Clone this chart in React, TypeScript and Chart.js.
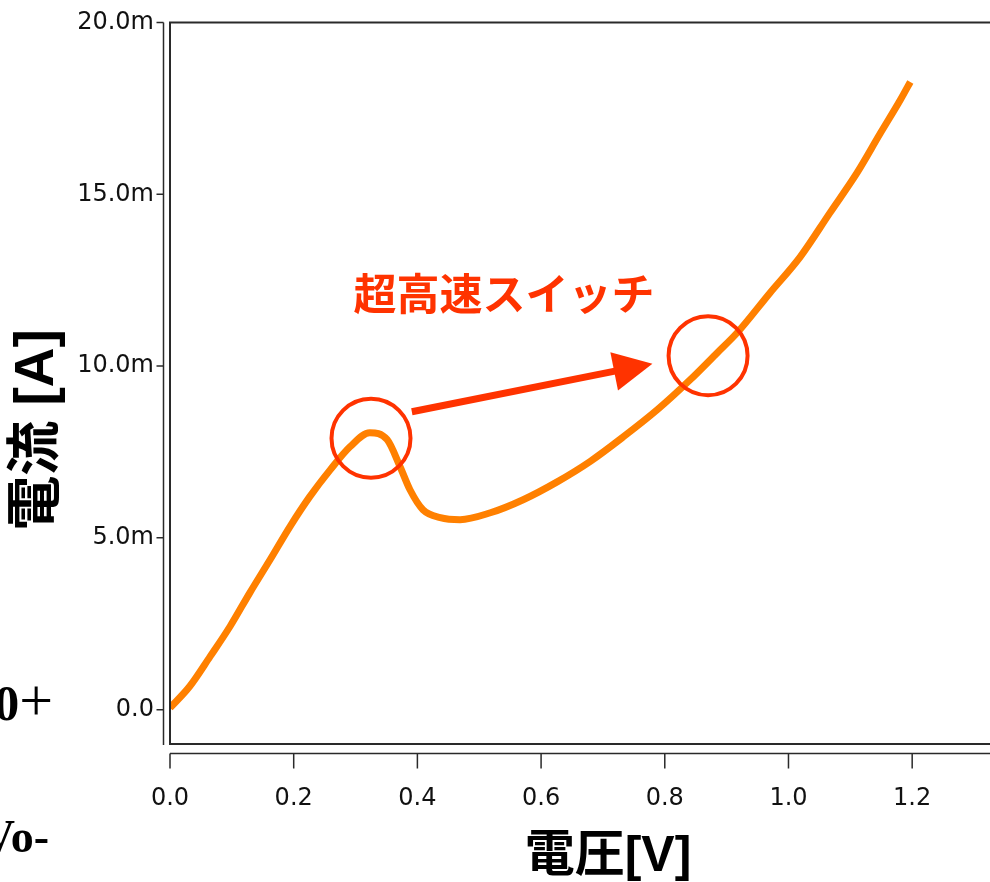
import React, { useEffect, useRef } from "react";
import { Chart, registerables } from "chart.js";

Chart.register(...registerables);

// Voltage [V] and current [mA]
const voltage = [0.0, 0.032, 0.065, 0.097, 0.129, 0.162, 0.194, 0.226, 0.259, 0.291, 0.323, 0.351, 0.372, 0.388, 0.409, 0.437, 0.469, 0.518, 0.571, 0.626, 0.679, 0.733, 0.788, 0.841, 0.885, 0.917, 0.970, 1.019, 1.067, 1.111, 1.148, 1.181, 1.197];
const current = [0.05, 0.68, 1.55, 2.42, 3.40, 4.37, 5.33, 6.20, 6.98, 7.65, 8.06, 7.86, 7.07, 6.40, 5.82, 5.59, 5.53, 5.73, 6.11, 6.63, 7.22, 7.94, 8.73, 9.60, 10.39, 10.97, 12.13, 13.18, 14.46, 15.63, 16.76, 17.75, 18.27];

const xTickValues = [0, 0.2, 0.4, 0.6, 0.8, 1.0, 1.2];
const yTickValues = [0, 5, 10, 15, 20];

const xTitle = "電圧[V]";
const yTitle = "電流 [A]";
const annotationText = "超高速スイッチ";

// annotation anchors in data units (V, mA)
const circleCenters = [
  { v: 0.325, i: 7.9 },
  { v: 0.870, i: 10.3 },
];
const arrowFrom = { v: 0.391, i: 8.67 };
const arrowTo = { v: 0.780, i: 10.07 };
const labelAt = { v: 0.540, i: 12.1 };

const RED = "#ff3300";
const ORANGE = "#ff8000";
const AXIS = "#2a2a2a";

const overlay = {
  id: "overlay",
  afterDraw(chart: any) {
    const ctx = chart.ctx;
    const a = chart.chartArea;
    const xs = chart.scales.x;
    const ys = chart.scales.y;
    ctx.save();

    // plot frame
    ctx.strokeStyle = AXIS;
    ctx.lineWidth = 2;
    ctx.strokeRect(a.left, a.top, a.right - a.left + 20, a.bottom - a.top);

    // outer y axis
    ctx.lineWidth = 1.5;
    const yAxisX = a.left - 6.5;
    ctx.beginPath();
    ctx.moveTo(yAxisX, a.top);
    ctx.lineTo(yAxisX, a.bottom + 1);
    for (const t of ys.ticks) {
      const py = ys.getPixelForValue(t.value);
      ctx.moveTo(yAxisX - 7, py);
      ctx.lineTo(yAxisX, py);
    }
    ctx.stroke();

    // outer x axis
    const xAxisY = a.bottom + 9.5;
    ctx.beginPath();
    ctx.moveTo(a.left, xAxisY);
    ctx.lineTo(chart.width, xAxisY);
    for (const t of xs.ticks) {
      const px = xs.getPixelForValue(t.value);
      ctx.moveTo(px, xAxisY);
      ctx.lineTo(px, xAxisY + 15);
    }
    ctx.stroke();

    // axis titles
    ctx.fillStyle = "#000";
    ctx.textAlign = "center";
    ctx.textBaseline = "middle";
    ctx.font = "bold 50px 'Liberation Sans', 'Noto Sans CJK JP', sans-serif";
    ctx.fillText(xTitle, 608, 857);
    ctx.save();
    ctx.translate(38, 430);
    ctx.rotate(-Math.PI / 2);
    ctx.font = "bold 55px 'Liberation Sans', 'Noto Sans CJK JP', sans-serif";
    ctx.fillText(yTitle, 0, 0);
    ctx.restore();

    // residual left-edge labels
    ctx.textAlign = "right";
    ctx.textBaseline = "alphabetic";
    ctx.font = "normal 60px 'Liberation Serif', serif";
    ctx.fillText("+", 53, 720);
    const plusW = ctx.measureText("+").width;
    ctx.font = "bold 50px 'Liberation Serif', serif";
    ctx.fillText("0", 53 - plusW, 720);
    ctx.font = "bold 46px 'Liberation Serif', serif";
    ctx.fillText("Vo-", 49, 852);

    // annotation circles
    ctx.strokeStyle = RED;
    ctx.lineWidth = 4;
    for (const c of circleCenters) {
      ctx.beginPath();
      ctx.arc(xs.getPixelForValue(c.v), ys.getPixelForValue(c.i), 39.5, 0, Math.PI * 2);
      ctx.stroke();
    }

    // arrow
    const x1 = xs.getPixelForValue(arrowFrom.v);
    const y1 = ys.getPixelForValue(arrowFrom.i);
    const x2 = xs.getPixelForValue(arrowTo.v);
    const y2 = ys.getPixelForValue(arrowTo.i);
    const ang = Math.atan2(y2 - y1, x2 - x1);
    const headLen = 39;
    const headHalf = 19.5;
    const bx = x2 - headLen * Math.cos(ang);
    const by = y2 - headLen * Math.sin(ang);
    ctx.lineWidth = 7;
    ctx.lineCap = "butt";
    ctx.beginPath();
    ctx.moveTo(x1, y1);
    ctx.lineTo(bx + 2 * Math.cos(ang), by + 2 * Math.sin(ang));
    ctx.stroke();
    ctx.fillStyle = RED;
    ctx.beginPath();
    ctx.moveTo(x2, y2);
    ctx.lineTo(bx - headHalf * Math.sin(ang), by + headHalf * Math.cos(ang));
    ctx.lineTo(bx + headHalf * Math.sin(ang), by - headHalf * Math.cos(ang));
    ctx.closePath();
    ctx.fill();

    // annotation text
    ctx.textAlign = "center";
    ctx.textBaseline = "middle";
    ctx.font = "bold 43px 'Noto Sans CJK JP', sans-serif";
    ctx.fillText(annotationText, xs.getPixelForValue(labelAt.v), ys.getPixelForValue(labelAt.i));

    ctx.restore();
  },
};

export default function App() {
  const ref = useRef<HTMLCanvasElement | null>(null);

  useEffect(() => {
    if (!ref.current) return;
    const points = voltage.map((v, k) => ({ x: v, y: current[k] }));
    const xTickFont = { family: "'DejaVu Sans', sans-serif", size: 24 };
    const yTickFont = { family: "'DejaVu Sans', sans-serif", size: 24, lineHeight: 0.6 };
    const chart = new Chart(ref.current, {
      type: "line",
      data: {
        datasets: [
          {
            data: points,
            borderColor: ORANGE,
            borderWidth: 7,
            pointRadius: 0,
            fill: false,
            cubicInterpolationMode: "monotone",
          },
        ],
      },
      options: {
        responsive: false,
        animation: false,
        events: [],
        layout: { padding: { left: 0, top: 22.5, right: 10, bottom: 0 } },
        plugins: { legend: { display: false }, tooltip: { enabled: false } },
        scales: {
          x: {
            type: "linear",
            min: 0,
            max: 1.342,
            afterFit: (s: any) => {
              s.height = 138;
            },
            afterBuildTicks: (s: any) => {
              s.ticks = xTickValues.map((v) => ({ value: v }));
            },
            grid: { display: false, drawTicks: false, tickLength: 0 },
            border: { display: false },
            ticks: {
              padding: 40,
              color: "#111",
              font: xTickFont,
              maxRotation: 0,
              autoSkip: false,
              callback: (v: any) => Number(v).toFixed(1),
            },
          },
          y: {
            type: "linear",
            min: -1,
            max: 20,
            afterFit: (s: any) => {
              s.width = 170;
              s.paddingTop = 0;
            },
            afterBuildTicks: (s: any) => {
              s.ticks = yTickValues.map((v) => ({ value: v }));
            },
            grid: { display: false, drawTicks: false, tickLength: 0 },
            border: { display: false },
            ticks: {
              padding: 16,
              color: "#111",
              font: yTickFont,
              autoSkip: false,
              callback: (v: any) => (Number(v) === 0 ? "0.0" : Number(v).toFixed(1) + "m"),
            },
          },
        },
      },
      plugins: [overlay],
    });
    return () => chart.destroy();
  }, []);

  return (
    <div
      style={{
        position: "absolute",
        left: 0,
        top: 0,
        width: 990,
        height: 882,
        overflow: "hidden",
        background: "#fff",
      }}
    >
      <canvas ref={ref} width={1010} height={882} style={{ display: "block" }} />
    </div>
  );
}
